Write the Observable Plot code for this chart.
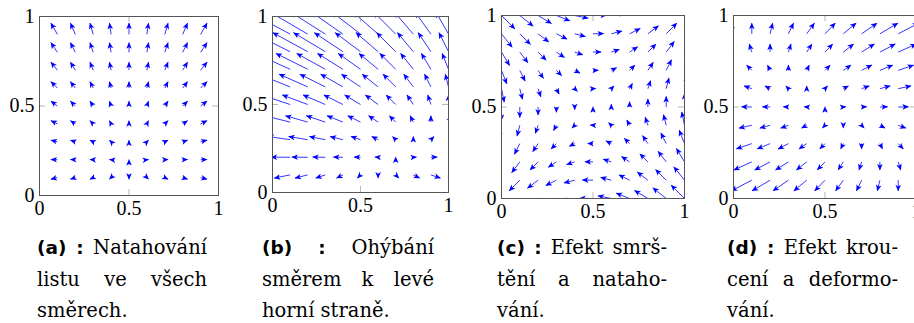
<!DOCTYPE html>
<html><head><meta charset="utf-8">
<script src="https://cdn.jsdelivr.net/npm/d3@7"></script>
<script src="https://cdn.jsdelivr.net/npm/@observablehq/plot@0.6"></script>
<style>
html,body{margin:0;padding:0;width:914px;height:323px;overflow:hidden;background:#fff;}
#root{position:relative;width:914px;height:323px;overflow:hidden;}
.panel{position:absolute;}
.cap{position:absolute;font-family:"DejaVu Serif","Liberation Serif","Noto Serif",serif;font-size:19.5px;line-height:31.5px;color:#000;}
.cap .ln{text-align:justify;text-align-last:justify;white-space:normal;}
.cap .ln.last{text-align:left;text-align-last:left;}
.cap b{font-family:"DejaVu Sans","Liberation Sans",sans-serif;font-weight:bold;font-size:18.5px;line-height:1;}
</style></head>
<body><div id="root"></div>
<script>
// ---- data ----
const tickValues = [0, 0.5, 1];
const tickLabels = ["0", "0.5", "1"];
const gridA = [0.1,0.2,0.3,0.4,0.5,0.6,0.7,0.8,0.9];
const gridFull = [0,0.1,0.2,0.3,0.4,0.5,0.6,0.7,0.8,0.9,1];

// (a) horizontal component per column, vertical component per row
const uA = [-0.036,-0.027,-0.018,-0.009,0,0.009,0.018,0.027,0.036];
const vA = [-0.009,0.001,0.009,0.018,0.027,0.036,0.045,0.054,0.063];

// (b) horizontal component per arrow (rows y=0..1), vertical per row
const uB = [
 [-0.09,-0.072,-0.054,-0.036,-0.018,0,0.018,0.036,0.054,0.072,0.09],
 [-0.108,-0.09,-0.072,-0.054,-0.036,-0.018,0,0.018,0.036,0.054,0.072],
 [-0.126,-0.108,-0.09,-0.072,-0.054,-0.036,-0.018,0,0.018,0.036,0.054],
 [-0.144,-0.126,-0.108,-0.09,-0.072,-0.054,-0.036,-0.018,0,0.018,0.036],
 [-0.162,-0.144,-0.126,-0.108,-0.09,-0.072,-0.054,-0.036,-0.018,0,0.018],
 [-0.18,-0.162,-0.144,-0.126,-0.108,-0.09,-0.072,-0.054,-0.036,-0.018,0],
 [-0.198,-0.18,-0.162,-0.144,-0.126,-0.108,-0.09,-0.072,-0.054,-0.036,-0.018],
 [-0.216,-0.198,-0.18,-0.162,-0.144,-0.126,-0.108,-0.09,-0.072,-0.054,-0.036],
 [-0.234,-0.216,-0.198,-0.18,-0.162,-0.144,-0.126,-0.108,-0.09,-0.072,-0.054],
 [-0.252,-0.234,-0.216,-0.198,-0.18,-0.162,-0.144,-0.126,-0.108,-0.09,-0.072],
 [-0.27,-0.252,-0.234,-0.216,-0.198,-0.18,-0.162,-0.144,-0.126,-0.108,-0.09]
];
const vB = [-0.036,-0.018,0.001,0.018,0.036,0.054,0.072,0.09,0.108,0.126,0.144];

// (c) horizontal component per row, vertical component per column
const uC = [-0.073,-0.058,-0.044,-0.029,-0.015,0,0.015,0.029,0.044,0.058,0.073];
const vC = [-0.073,-0.058,-0.044,-0.029,-0.015,0.001,0.015,0.029,0.044,0.058,0.073];

// (d) horizontal component per arrow, vertical per row
const uD = [
 [-0.14,-0.126,-0.112,-0.098,-0.084,-0.07,-0.056,-0.042,-0.028,-0.014,0],
 [-0.126,-0.112,-0.098,-0.084,-0.07,-0.056,-0.042,-0.028,-0.014,0,0.014],
 [-0.112,-0.098,-0.084,-0.07,-0.056,-0.042,-0.028,-0.014,0,0.014,0.028],
 [-0.098,-0.084,-0.07,-0.056,-0.042,-0.028,-0.014,0,0.014,0.028,0.042],
 [-0.084,-0.07,-0.056,-0.042,-0.028,-0.014,0,0.014,0.028,0.042,0.056],
 [-0.07,-0.056,-0.042,-0.028,-0.014,0,0.014,0.028,0.042,0.056,0.07],
 [-0.056,-0.042,-0.028,-0.014,0,0.014,0.028,0.042,0.056,0.07,0.084],
 [-0.042,-0.028,-0.014,0,0.014,0.028,0.042,0.056,0.07,0.084,0.098],
 [-0.028,-0.014,0,0.014,0.028,0.042,0.056,0.07,0.084,0.098,0.112],
 [-0.014,0,0.014,0.028,0.042,0.056,0.07,0.084,0.098,0.112,0.126],
 [0,0.014,0.028,0.042,0.056,0.07,0.084,0.098,0.112,0.126,0.14]
];
const vD = [-0.073,-0.058,-0.044,-0.029,-0.015,0.001,0.015,0.029,0.044,0.058,0.073];

const captionLabels = ["(a) :", "(b) :", "(c) :", "(d) :"];
const captionLines = [
  ["Natahování", "listu ve všech", "směrech."],
  ["Ohýbání", "směrem k levé", "horní straně."],
  ["Efekt smrš-", "tění a nataho-", "vání."],
  ["Efekt krou-", "cení a deformo-", "vání."]
];

// ---- tables built from the arrays ----
function table(grid, getU, getV) {
  const out = [];
  grid.forEach((y, j) => grid.forEach((x, i) => out.push({x, y, u: getU(i, j), v: getV(i, j)})));
  return out;
}
const dataA = table(gridA, (i, j) => uA[i], (i, j) => vA[j]);
const dataB = table(gridFull, (i, j) => uB[j][i], (i, j) => vB[j]);
const dataC = table(gridFull, (i, j) => uC[j], (i, j) => vC[i]);
const dataD = table(gridFull, (i, j) => uD[j][i], (i, j) => vD[j]);

const panels = [
  {left: 39, top: 16, size: 179, data: dataA},
  {left: 272, top: 16, size: 176, data: dataB},
  {left: 501, top: 15, size: 183, data: dataC},
  {left: 733, top: 15, size: 183, data: dataD}
];
const captions = [
  {left: 37, width: 170},
  {left: 262, width: 172},
  {left: 497, width: 170},
  {left: 727, width: 171}
];

function stealth(color) {
  const m = d3.create("svg:marker")
    .attr("viewBox", "-8 -4 9 8")
    .attr("markerWidth", 9).attr("markerHeight", 8)
    .attr("markerUnits", "userSpaceOnUse")
    .attr("refX", 0).attr("refY", 0)
    .attr("orient", "auto");
  m.append("path").attr("fill", color).attr("stroke", "none")
    .attr("d", "M0.5,0L-6,-2.8L-4.4,0L-6,2.8Z");
  return m.node();
}

function arrowsMark(data) {
  const opts = {x1: "x", y1: "y", x2: d => d.x + d.u, y2: d => d.y + d.v,
    stroke: "blue", strokeWidth: 0.8, clip: true};
  try {
    return Plot.link(data, {...opts, markerEnd: stealth});
  } catch (e) {
    return Plot.arrow(data, {...opts, headLength: 6, headAngle: 50});
  }
}

const root = document.getElementById("root");
const mL = 46, mR = 14, mT = 12, mB = 32;
const fmt = d => tickLabels[tickValues.indexOf(d)];
const serif = "'Liberation Serif', 'DejaVu Serif', 'Noto Serif', serif";

panels.forEach(p => {
  const s = p.size;
  const svg = Plot.plot({
    width: mL + s + mR, height: mT + s + mB,
    marginLeft: mL, marginRight: mR, marginTop: mT, marginBottom: mB,
    x: {domain: [0, 1], label: null}, y: {domain: [0, 1], label: null},
    style: {fontFamily: serif, fontSize: "20px", background: "transparent", maxWidth: "none", overflow: "visible"},
    marks: [
      arrowsMark(p.data),
      Plot.tickX(tickValues, {x: d => d, stroke: "#999", strokeWidth: 0.7, insetTop: s - 6}),
      Plot.tickX(tickValues, {x: d => d, stroke: "#999", strokeWidth: 0.7, insetBottom: s - 6}),
      Plot.tickY(tickValues, {y: d => d, stroke: "#999", strokeWidth: 0.7, insetRight: s - 6}),
      Plot.tickY(tickValues, {y: d => d, stroke: "#999", strokeWidth: 0.7, insetLeft: s - 6}),
      Plot.frame({stroke: "#555", strokeWidth: 1}),
      Plot.axisX(tickValues, {tickSize: 0, tickPadding: 5, tickFormat: fmt, fill: "#000", label: null, fontFamily: serif, fontSize: 20}),
      Plot.axisY(tickValues, {tickSize: 0, tickPadding: 5, tickFormat: fmt, fill: "#000", label: null, fontFamily: serif, fontSize: 20})
    ]
  });
  const div = document.createElement("div");
  div.className = "panel";
  div.style.left = (p.left - mL) + "px";
  div.style.top = (p.top - mT) + "px";
  div.style.width = (mL + s + mR) + "px";
  div.appendChild(svg);
  root.appendChild(div);
});

captions.forEach((c, k) => {
  const div = document.createElement("div");
  div.className = "cap";
  div.style.left = c.left + "px";
  div.style.top = "232px";
  div.style.width = c.width + "px";
  captionLines[k].forEach((line, n) => {
    const ln = document.createElement("div");
    ln.className = "ln" + (n === captionLines[k].length - 1 ? " last" : "");
    if (n === 0) {
      const b = document.createElement("b");
      b.textContent = captionLabels[k];
      ln.appendChild(b);
      ln.appendChild(document.createTextNode(" " + line));
    } else {
      ln.textContent = line;
    }
    div.appendChild(ln);
  });
  root.appendChild(div);
});
</script>
</body></html>
